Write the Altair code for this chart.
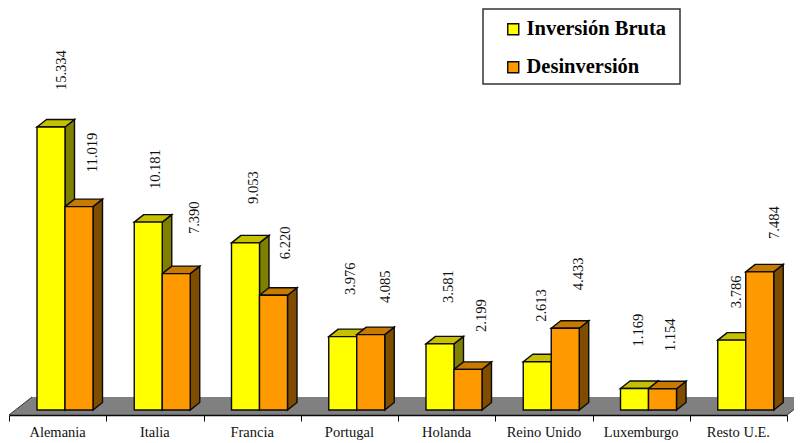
import altair as alt
import pandas as pd

# ---- values ----
paises = ["Alemania", "Italia", "Francia", "Portugal", "Holanda", "Reino Unido", "Luxemburgo", "Resto U.E."]
inversion = [15334, 10181, 9053, 3976, 3581, 2613, 1169, 3786]
desinversion = [11019, 7390, 6220, 4085, 2199, 4433, 1154, 7484]
series_names = ["Inversión Bruta", "Desinversión"]

# ---- layout (pixels) ----
W, H = 778, 407
UNIT = W / 8
PX_PER_VAL = 283 / 15334
BAR_START = 28 / UNIT
BAR_W = 28 / UNIT
DX = 9.5 / UNIT
DY = 7.5 / PX_PER_VAL
FONT = "Liberation Serif"
LINE = "#0a0a0a"
label_dx = {0: [24.5, 21.5, 22.5, 22.5, 22.5, 18.5, 18.5, 19.5], 1: [27.5, 32.5, 26.5, 29.5, 27.5, 27.5, 22.5, 29.5]}
label_gap = {0: [37, 33, 39, 41.5, 41, 40, 42, 32], 1: [34.5, 39.5, 36, 31.5, 37.5, 38, 37.5, 33]}
front_col = ["#FFFF00", "#FF9900"]
top_col = ["#C6C000", "#C67A00"]
side_col = ["#808000", "#804D00"]

x_scale = alt.Scale(domain=[0, 8], nice=False, zero=False)
y_scale = alt.Scale(domain=[-5 / PX_PER_VAL, 402 / PX_PER_VAL], nice=False, zero=False)
x_axis = alt.Axis(values=list(range(9)), labels=False, title=None, grid=False, zindex=1,
                  domainColor=LINE, domainWidth=1.5, tickColor=LINE, tickSize=6, tickWidth=1)
X = lambda f: alt.X(f, type="quantitative", scale=x_scale, axis=x_axis, stack=None)
Y = lambda f: alt.Y(f, type="quantitative", scale=y_scale, axis=None, stack=None)

series = [inversion, desinversion]
fronts, sides, tops, labels = [], [], [], []
for s, vals in enumerate(series):
    sr, tr, lr = [], [], []
    for i, v in enumerate(vals):
        x0 = i + BAR_START + s * BAR_W
        x1 = x0 + BAR_W
        fronts.append(dict(serie=series_names[s], x=x0, x2=x1, y=v, y2=0, orden=s))
        sr += [dict(b=i, x=x1, y=v, y2=0), dict(b=i, x=x1 + DX, y=v + DY, y2=DY)]
        tr += [dict(b=i, y=v, x=x0, x2=x1), dict(b=i, y=v + DY, x=x0 + DX, x2=x1 + DX)]
        lr.append(dict(x=x0 + label_dx[s][i] / UNIT, y=v + label_gap[s][i] / PX_PER_VAL,
                       t=f"{v:,}".replace(",", ".")))
    sides.append(pd.DataFrame(sr))
    tops.append(pd.DataFrame(tr))
    labels += lr

floor = pd.DataFrame([
    dict(y=-5 / PX_PER_VAL, x=0.0, x2=8.0),
    dict(y=13 / PX_PER_VAL, x=23 / UNIT, x2=8 + 23 / UNIT),
])
edge_l = pd.DataFrame([dict(x=0.0, y=-5 / PX_PER_VAL), dict(x=23 / UNIT, y=13 / PX_PER_VAL)])
edge_r = pd.DataFrame([dict(x=8.0, y=-5 / PX_PER_VAL), dict(x=8 + 23 / UNIT, y=13 / PX_PER_VAL)])

floor_layer = alt.Chart(floor).mark_area(orient="horizontal", fill="#808080").encode(
    y=Y("y"), x=X("x"), x2="x2")
edges = [alt.Chart(d).mark_line(color="#333333", strokeWidth=1).encode(x=X("x"), y=Y("y")) for d in (edge_l, edge_r)]

layers = [floor_layer] + edges
for s in range(2):
    layers.append(alt.Chart(sides[s]).mark_area(fill=side_col[s], stroke=LINE, strokeWidth=1.4).encode(
        x=X("x"), y=Y("y"), y2="y2", detail="b:N"))
    layers.append(alt.Chart(tops[s]).mark_area(orient="horizontal", fill=top_col[s], stroke=LINE, strokeWidth=1.4).encode(
        y=Y("y"), x=X("x"), x2="x2", detail="b:N"))

front_layer = alt.Chart(pd.DataFrame(fronts)).mark_rect(stroke=LINE, strokeWidth=1.4).encode(
    x=X("x"), x2="x2", y=Y("y"), y2="y2",
    fill=alt.Fill("serie:N", scale=alt.Scale(domain=series_names, range=front_col),
                  legend=alt.Legend(
                      orient="none", legendX=474, legendY=1, title=None, padding=10,
                      symbolType="square", symbolSize=121, symbolStrokeColor=LINE, symbolStrokeWidth=1.4,
                      symbolOffset=10, labelOffset=3, rowPadding=17,
                      labelFont=FONT, labelFontSize=20.5, labelFontWeight="bold", labelColor="black",
                      labelLimit=300)))
layers.append(front_layer)

# legend frame
layers.append(alt.Chart(pd.DataFrame({"a": [0]})).mark_rect(fill=None, stroke="#333333", strokeWidth=1.5).encode(
    x=alt.value(474), x2=alt.value(671), y=alt.value(1), y2=alt.value(76)))

layers.append(alt.Chart(pd.DataFrame(labels)).mark_text(
    angle=270, align="left", baseline="middle", font=FONT, fontSize=14.5, color="#111111").encode(
    x=X("x"), y=Y("y"), text="t:N"))

cat_df = pd.DataFrame(dict(x=[i + 0.5 for i in range(8)], t=paises))
layers.append(alt.Chart(cat_df).mark_text(font=FONT, fontSize=14.5, color="#111111", baseline="middle").encode(
    x=X("x"), y=alt.value(H + 17.5), text="t:N"))

chart = alt.layer(*layers).properties(
    width=W, height=H,
    padding=dict(left=1, top=0, right=7, bottom=25),
    autosize=alt.AutoSizeParams(type="none"),
    background="white",
).configure_view(stroke=None)

chart.save("out.html", embed_options={"renderer": "svg", "actions": False})
